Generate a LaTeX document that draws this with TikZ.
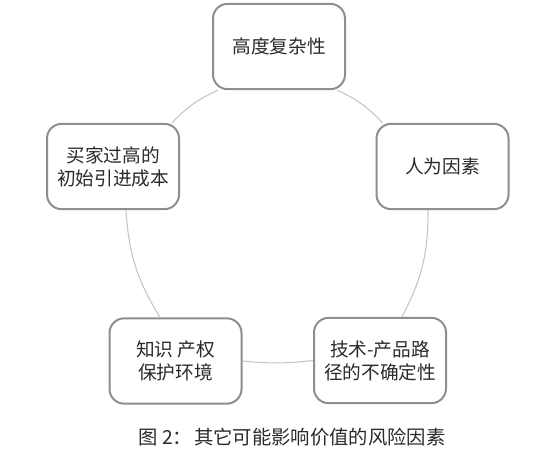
\documentclass[tikz,border=0pt]{standalone}
\usepackage{fontspec}
\newfontfamily\cjk{Noto Sans CJK SC}
\definecolor{boxgray}{HTML}{8E8E8E}
\definecolor{linegray}{HTML}{C4C4C4}
\definecolor{textgray}{HTML}{2A2A2A}
\begin{document}
\begin{tikzpicture}[x=0.75pt,y=-0.75pt,
  box/.style={draw=boxgray, line width=1.5pt, rounded corners=11pt, fill=white,
    minimum width=99pt, minimum height=64pt, align=center, inner sep=2pt,
    font=\cjk\fontsize{14}{17.25}\selectfont, text=textgray},
  conn/.style={draw=linegray, line width=0.8pt},
  captionstyle/.style={font=\cjk\fontsize{14.5}{17}\selectfont, text=textgray, inner sep=0pt}]
\useasboundingbox (0,0) rectangle (554,450);
\node[box] (top) at (279,46.5) {高度复杂性};
\node[box] (left) at (113,166.5) {买家过高的\\初始引进成本};
\node[box] (right) at (442.5,166.5) {人为因素};
\node[box] (bl) at (175.5,361) {知识 产权\\保护环境};
\node[box] (br) at (380,360.5) {技术-产品路\\径的不确定性};
\draw[conn] ([xshift=-6.75pt]top.south east) to[bend left=11] ([xshift=5.25pt]right.north west);
\draw[conn] ([xshift=4.5pt]top.south west) to[bend right=11] ([xshift=-6pt]left.north east);
\draw[conn] ([xshift=9.75pt]left.south) to[bend right=14] ([xshift=-11.6pt]bl.north);
\draw[conn] ([xshift=-10.9pt]right.south) to[bend left=14] ([xshift=16.5pt]br.north);
\draw[conn] (bl.east) to[bend right=6] (br.west);
\node[captionstyle] (cap) at (292,437) {图 2：\hspace{1.5pt}其它可能影响价值的风险因素};
\end{tikzpicture}
\end{document}
